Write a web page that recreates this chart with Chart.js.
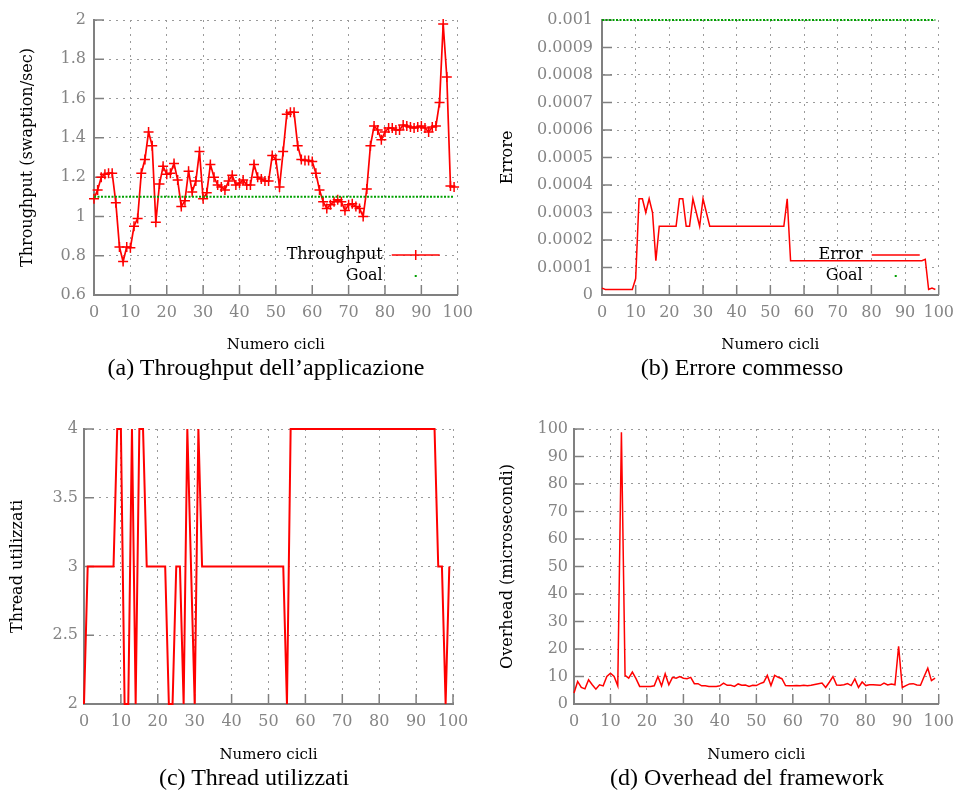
<!DOCTYPE html>
<html><head><meta charset="utf-8">
<script src="https://cdn.jsdelivr.net/npm/chart.js@4/dist/chart.umd.min.js"></script>
<style>
body{margin:0;background:#fff;width:962px;height:795px;position:relative;overflow:hidden}
canvas{position:absolute}
.cap{position:absolute;width:460px;text-align:center;font-family:"Liberation Serif",serif;font-size:24px;line-height:28px;color:#000;white-space:nowrap}
</style></head><body>
<canvas id="ca" width="481" height="354" style="left:0;top:0"></canvas>
<canvas id="cb" width="481" height="354" style="left:481px;top:0"></canvas>
<canvas id="cc" width="481" height="364" style="left:0;top:400px"></canvas>
<canvas id="cd" width="481" height="364" style="left:481px;top:400px"></canvas>
<div class="cap" style="left:36px;top:353px">(a) Throughput dell’applicazione</div>
<div class="cap" style="left:512px;top:353px">(b) Errore commesso</div>
<div class="cap" style="left:24px;top:763px">(c) Thread utilizzati</div>
<div class="cap" style="left:517px;top:763px">(d) Overhead del framework</div>
<script>
const cycles = [0,1,2,3,4,5,6,7,8,9,10,11,12,13,14,15,16,17,18,19,20,21,22,23,24,25,26,27,28,29,30,31,32,33,34,35,36,37,38,39,40,41,42,43,44,45,46,47,48,49,50,51,52,53,54,55,56,57,58,59,60,61,62,63,64,65,66,67,68,69,70,71,72,73,74,75,76,77,78,79,80,81,82,83,84,85,86,87,88,89,90,91,92,93,94,95,96,97,98,99];
const xTicks = [0,10,20,30,40,50,60,70,80,90,100];

const throughput = [1.09,1.135,1.2,1.215,1.22,1.22,1.07,0.845,0.77,0.845,0.84,0.95,0.99,1.22,1.29,1.43,1.36,0.97,1.165,1.255,
 1.215,1.22,1.27,1.185,1.05,1.08,1.23,1.125,1.18,1.33,1.09,1.12,1.265,1.2,1.16,1.15,1.135,1.18,1.21,1.16,
 1.17,1.185,1.16,1.16,1.265,1.2,1.19,1.18,1.18,1.31,1.29,1.15,1.33,1.52,1.53,1.53,1.36,1.29,1.285,1.285,
 1.28,1.22,1.135,1.075,1.04,1.06,1.075,1.085,1.075,1.03,1.06,1.065,1.05,1.04,1.0,1.14,1.36,1.46,1.44,1.39,
 1.43,1.45,1.45,1.44,1.44,1.465,1.46,1.455,1.45,1.455,1.46,1.45,1.43,1.455,1.46,1.58,1.98,1.71,1.155,1.15];
const throughputGoal = 1.1;
const throughputTicks = [0.6,0.8,1,1.2,1.4,1.6,1.8,2];

const errore = [0.000025,0.00002,0.00002,0.00002,0.00002,0.00002,0.00002,0.00002,0.00002,0.00002,
 0.00006,0.00035,0.00035,0.0003,0.00035,0.0003,0.000125,0.00025,0.00025,0.00025,
 0.00025,0.00025,0.00025,0.00035,0.00035,0.00025,0.00025,0.00035,0.0003,0.00025,
 0.00035,0.0003,0.00025,0.00025,0.00025,0.00025,0.00025,0.00025,0.00025,0.00025,
 0.00025,0.00025,0.00025,0.00025,0.00025,0.00025,0.00025,0.00025,0.00025,0.00025,
 0.00025,0.00025,0.00025,0.00025,0.00025,0.00035,0.000125,0.000125,0.000125,0.000125,
 0.000125,0.000125,0.000125,0.000125,0.000125,0.000125,0.000125,0.000125,0.000125,0.000125,
 0.000125,0.000125,0.000125,0.000125,0.000125,0.000125,0.000125,0.000125,0.000125,0.000125,
 0.000125,0.000125,0.000125,0.000125,0.000125,0.000125,0.000125,0.000125,0.000125,0.000125,
 0.000125,0.000125,0.000125,0.000125,0.000125,0.000125,0.00013,0.00002,0.000025,0.00002];
const erroreGoal = 0.001;
const erroreTicks = [0,0.0001,0.0002,0.0003,0.0004,0.0005,0.0006,0.0007,0.0008,0.0009,0.001];

const threads = [2,3,3,3,3,3,3,3,3,4,4,2,2,4,2,4,4,3,3,3,
 3,3,3,2,2,3,3,2,4,3,2,4,3,3,3,3,3,3,3,3,
 3,3,3,3,3,3,3,3,3,3,3,3,3,3,3,2,4,4,4,4,
 4,4,4,4,4,4,4,4,4,4,4,4,4,4,4,4,4,4,4,4,
 4,4,4,4,4,4,4,4,4,4,4,4,4,4,4,4,3,3,2,3];
const threadTicks = [2,2.5,3,3.5,4];

const overhead = [4,8.2,6,5.5,8.8,7,5.4,7,6.6,10,11.2,10,6.6,98.8,10.4,9.4,11.6,9.2,6.4,6.4,
 6.4,6.4,6.6,10,6.6,11,7,9.7,9.4,10,9.4,9.2,9.7,7.4,7.4,6.6,6.6,6.4,6.4,6.4,
 6.6,7.6,6.8,6.8,6.4,7.3,6.8,6.9,6.4,6.8,6.7,7.4,7.9,10.4,6.7,10.4,9.7,9.2,6.7,6.6,
 6.6,6.7,6.6,6.8,6.6,6.8,7.1,7.4,7.6,6,7.9,10,6.9,6.8,7,7.4,6.7,9.1,6,8,
 6.7,7,7,6.9,6.8,7.6,6.9,7.3,7,21,6,6.7,7.3,7.4,6.9,6.8,10,13,8.5,9.4];
const overheadTicks = [0,10,20,30,40,50,60,70,80,90,100];

const SERIF = '"DejaVu Serif", serif';
const RED = '#ff0000', GREEN = '#00a000', AXIS = '#808080';

function pts(vals){ return vals.map((v,i)=>({x:cycles[i], y:v})); }
function constLine(v){ return cycles.map(c=>({x:c, y:v})); }

const innerTicks = {id:'innerTicks', beforeDatasetsDraw(chart){
  const {ctx, chartArea:a, scales:{x,y}} = chart;
  ctx.save(); ctx.strokeStyle=AXIS; ctx.lineWidth=1.5; ctx.setLineDash([]);
  ctx.beginPath();
  x.ticks.forEach(t=>{const p=x.getPixelForValue(t.value); ctx.moveTo(p,a.bottom); ctx.lineTo(p,a.bottom-10);});
  y.ticks.forEach(t=>{const p=y.getPixelForValue(t.value); ctx.moveTo(a.left,p); ctx.lineTo(a.left+10,p);});
  ctx.stroke(); ctx.restore();
}};

const gpLegend = {id:'gpLegend', afterDatasetsDraw(chart, args, opts){
  if(!opts || !opts.items) return;
  const {ctx, chartArea:a} = chart;
  ctx.save();
  ctx.font = '16px "DejaVu Serif"'; ctx.textAlign='right'; ctx.textBaseline='middle';
  const x1=a.right+opts.sampleFrom, x2=a.right+opts.sampleTo, xm=(x1+x2)/2;
  for(const it of opts.items){
    const y = a.bottom + it.dy;
    ctx.fillStyle='#000';
    ctx.fillText(it.label, a.right + opts.textRight, y);
    if(it.kind==='dot'){
      ctx.fillStyle=it.color; ctx.fillRect(xm-1,y-1,2,2);
    } else {
      ctx.strokeStyle=it.color; ctx.lineWidth=1.5; ctx.beginPath();
      ctx.moveTo(x1,y); ctx.lineTo(x2,y);
      if(it.kind==='linecross'){ ctx.moveTo(xm-5,y); ctx.lineTo(xm+5,y); ctx.moveTo(xm,y-5); ctx.lineTo(xm,y+5); }
      ctx.stroke();
    }
  }
  ctx.restore();
}};

function fmt(v){ return String(+Number(v).toFixed(6)); }

function makeChart(id, o){
  return new Chart(document.getElementById(id), {
    type:'line',
    data:{datasets:o.datasets},
    options:{
      responsive:false, animation:false, devicePixelRatio:1,
      layout:{padding:{left:0, top:o.padTop, right:o.padRight, bottom:0}},
      plugins:{legend:{display:false}, tooltip:{enabled:false}, gpLegend:o.legend||false},
      elements:{line:{tension:0}, point:{hoverRadius:0}},
      scales:{
        x:{type:'linear', min:0, max:100,
          afterBuildTicks: s=>{ s.ticks = xTicks.map(v=>({value:v})); },
          grid:{color:'#9a9a9a', lineWidth:1, drawTicks:false},
          border:{display:true, color:AXIS, width:2, dash:[2,5]},
          ticks:{color:'#858585', font:{family:SERIF, size:16}, padding:8, maxRotation:0, autoSkip:false, callback:fmt},
          title:{display:true, text:'Numero cicli', color:'#000', font:{family:SERIF, size:15}, padding:{top:0,bottom:0}},
          afterFit: s=>{ s.height = o.xH; }
        },
        y:{type:'linear', min:o.yMin, max:o.yMax,
          afterBuildTicks: s=>{ s.ticks = o.yTicks.map(v=>({value:v})); },
          grid:{color:'#9a9a9a', lineWidth:1, drawTicks:false},
          border:{display:true, color:AXIS, width:2, dash:[2,5]},
          ticks:{color:'#858585', font:{family:SERIF, size:16}, padding:o.yPad, autoSkip:false, callback:fmt},
          title:{display:true, text:o.yTitle, color:'#000', font:{family:SERIF, size:16}, padding:{top:o.yTitlePad,bottom:0}},
          afterFit: s=>{ s.width = o.yW; }
        }
      }
    },
    plugins:[innerTicks, gpLegend]
  });
}

makeChart('ca', {
  padTop:20, padRight:19, xH:59, yW:94, yPad:8, yTitlePad:18, yMin:0.6, yMax:2, yTicks:throughputTicks,
  yTitle:'Throughput (swaption/sec)',
  datasets:[
    {data:constLine(throughputGoal), borderColor:GREEN, borderWidth:2, borderDash:[2,1.5], pointRadius:0, clip:false},
    {data:pts(throughput), borderColor:RED, borderWidth:1.7, pointStyle:'cross', pointRadius:5, pointBorderColor:RED, pointBorderWidth:1.5, clip:false}
  ],
  legend:{textRight:-75, sampleFrom:-66, sampleTo:-18, items:[
    {label:'Throughput', kind:'linecross', color:RED, dy:-40},
    {label:'Goal', kind:'dot', color:GREEN, dy:-19}]}
});

makeChart('cb', {
  padTop:20, padRight:19, xH:59, yW:121, yPad:9, yTitlePad:17, yMin:0, yMax:0.001, yTicks:erroreTicks,
  yTitle:'Errore',
  datasets:[
    {data:constLine(erroreGoal), borderColor:GREEN, borderWidth:2, borderDash:[2,1.5], pointRadius:0, clip:false},
    {data:pts(errore), borderColor:RED, borderWidth:1.5, pointRadius:0, clip:false}
  ],
  legend:{textRight:-76, sampleFrom:-67, sampleTo:-19, items:[
    {label:'Error', kind:'line', color:RED, dy:-40},
    {label:'Goal', kind:'dot', color:GREEN, dy:-19}]}
});

makeChart('cc', {
  padTop:29, padRight:28, xH:60, yW:84, yPad:6, yTitlePad:8, yMin:2, yMax:4, yTicks:threadTicks,
  yTitle:'Thread utilizzati',
  datasets:[
    {data:pts(threads), borderColor:RED, borderWidth:2, pointRadius:0, clip:false}
  ]
});

makeChart('cd', {
  padTop:29, padRight:19, xH:60, yW:93, yPad:6, yTitlePad:17, yMin:0, yMax:100, yTicks:overheadTicks,
  yTitle:'Overhead (microsecondi)',
  datasets:[
    {data:pts(overhead), borderColor:RED, borderWidth:1.5, pointRadius:0, clip:false}
  ]
});
</script>
</body></html>
